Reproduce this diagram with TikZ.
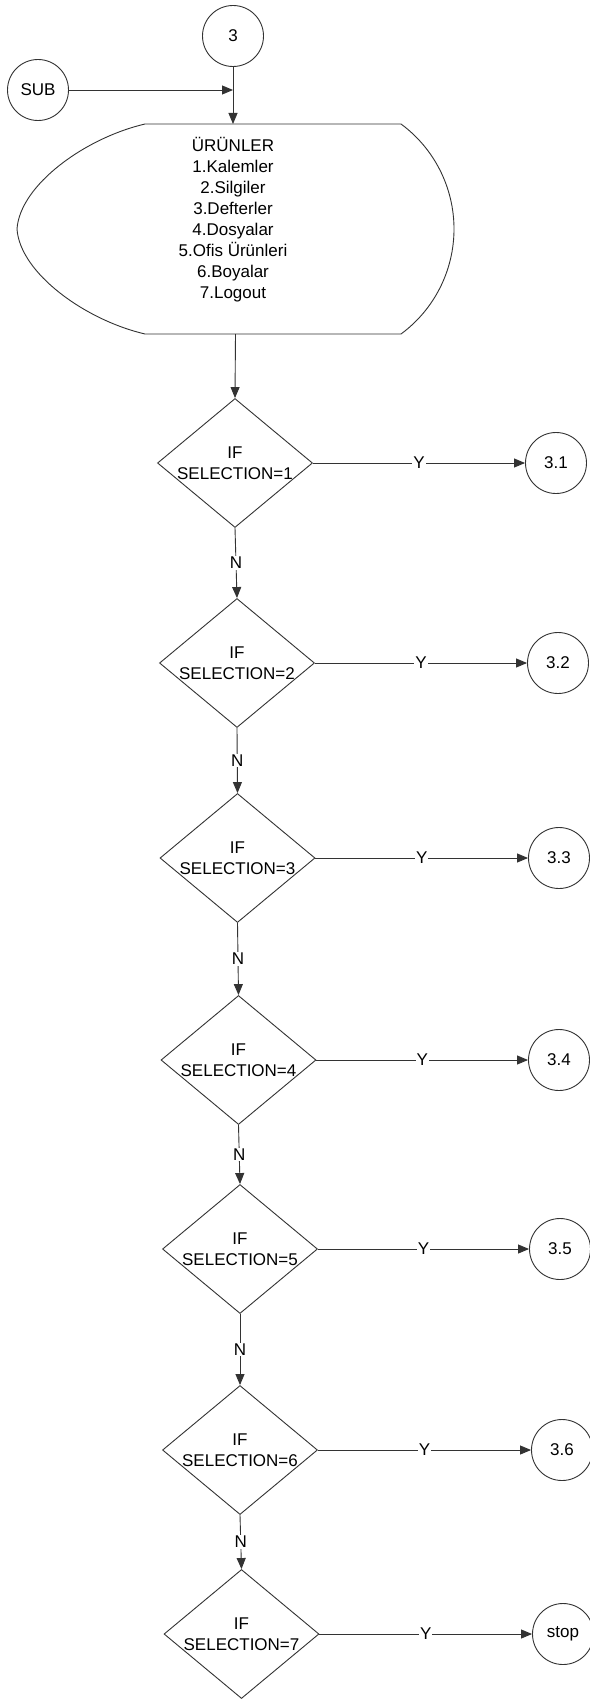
\documentclass[tikz,border=0pt]{standalone}
\usepackage{fontspec}
\setmainfont{Liberation Sans}
\usetikzlibrary{shapes.geometric,arrows.meta}
\begin{document}
\begin{tikzpicture}[x=1pt,y=-1pt,
  every node/.style={font=\fontsize{17}{21}\selectfont, text=black},
  ln/.style={draw=black!80, line width=0.9pt},
  arr/.style={ln, -{Triangle[length=11pt,width=9pt]}},
  conn/.style={draw=black!80, circle, line width=0.9pt, minimum size=61pt, inner sep=0pt},
  dec/.style={draw=black!80, diamond, line width=0.9pt, minimum width=155pt, minimum height=129pt, inner sep=0pt},
  lbl/.style={fill=white, inner sep=1pt},
]
\fill[white] (0,0) rectangle (589,1699);
\useasboundingbox (0,0) rectangle (589,1699);

% top connectors
\node[conn] (c3) at (233,36) {3};
\node[conn] (sub) at (38,90) {SUB};

% display shape
\node[minimum width=437pt, minimum height=210pt, inner sep=0pt, outer sep=0pt] (disp) at (235.5,229) {};
\draw[ln] (145,124) -- (401,124)
  .. controls (434.3,148.5) and (454,187.6) .. (454,229)
  .. controls (454,270.4) and (434.3,309.5) .. (401,334)
  -- (145,334)
  .. controls (85,320) and (20,273) .. (17,229)
  .. controls (20,185) and (85,138) .. (145,124) -- cycle;
\node[align=center] (menu) at (233,220) {ÜRÜNLER\\1.Kalemler\\2.Silgiler\\3.Defterler\\4.Dosyalar\\5.Ofis Ürünleri\\6.Boyalar\\7.Logout};

\draw[arr] (sub) -- (c3 |- sub);
\draw[arr] (c3) -- (c3 |- disp.north);

% decisions
\node[dec] (d1) at (235,463) {};
\node[dec] (d2) at (237,663) {};
\node[dec] (d3) at (237.5,858) {};
\node[dec] (d4) at (238.5,1060) {};
\node[dec] (d5) at (240,1249) {};
\node[dec] (d6) at (240,1450) {};
\node[dec] (d7) at (241.5,1634) {};

\foreach \i in {1,...,7}{
  \node[align=center] (t\i) at (d\i) {IF\\SELECTION=\i};
}

% result connectors
\node[conn] (r1) at (556,463) {3.1};
\node[conn] (r2) at (558,663) {3.2};
\node[conn] (r3) at (559,858) {3.3};
\node[conn] (r4) at (559,1060) {3.4};
\node[conn] (r5) at (560,1249) {3.5};
\node[conn] (r6) at (562,1450) {3.6};
\node[conn] (r7) at (563,1634) {stop};

\draw[arr] (disp.south) -- (d1.north);

\foreach \i/\j in {1/2,2/3,3/4,4/5,5/6,6/7}{
  \draw[arr] (d\i.south) -- node[lbl]{N} (d\j.north);
}
\foreach \i in {1,...,7}{
  \draw[arr] (d\i.east) -- node[lbl]{Y} (r\i.west);
}
\end{tikzpicture}
\end{document}
